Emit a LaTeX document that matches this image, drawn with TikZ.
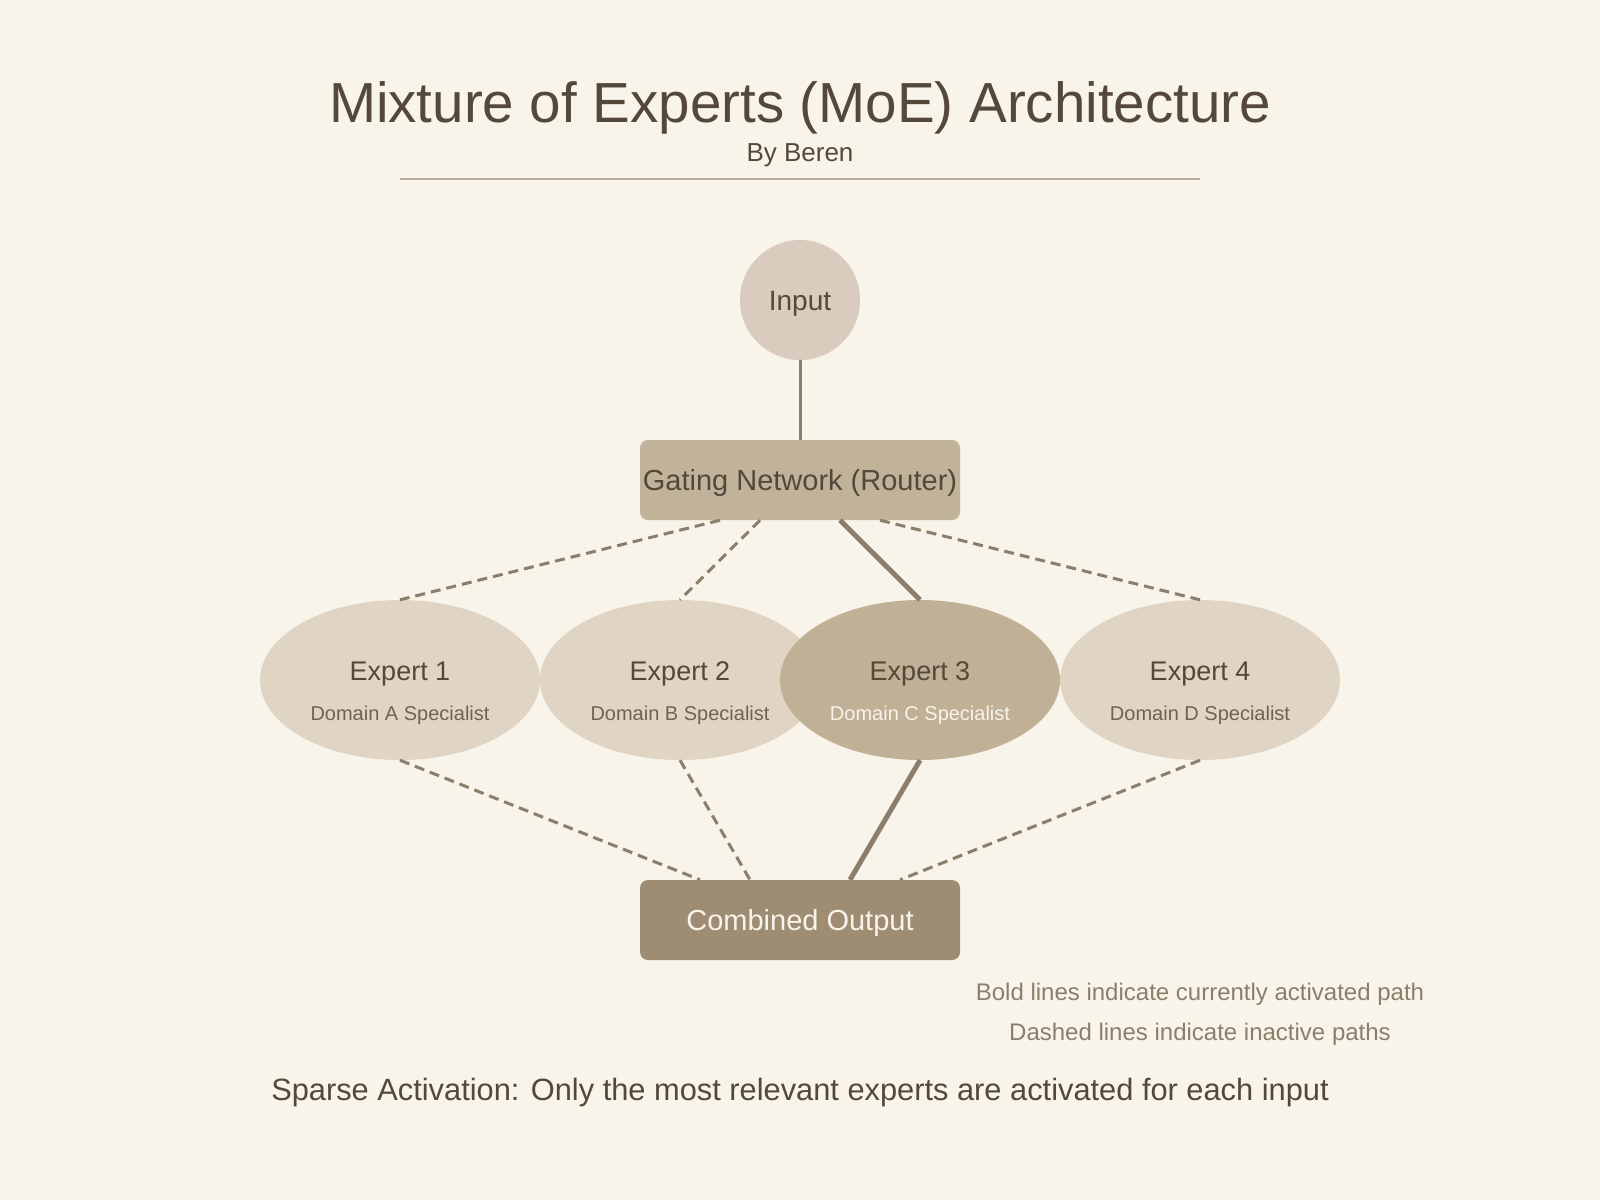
\documentclass[tikz,border=0pt]{standalone}
\usepackage{fontspec}
\setmainfont{Liberation Sans}
\usetikzlibrary{shapes.geometric}

\definecolor{paper}{HTML}{F8F4EA}
\definecolor{ink}{HTML}{54483A}
\definecolor{subink}{HTML}{6E6254}
\definecolor{wire}{HTML}{8B7E6B}
\definecolor{rulec}{HTML}{B8AC9A}
\definecolor{inputfill}{HTML}{D9CCBE}
\definecolor{gatefill}{HTML}{C1B29A}
\definecolor{expfill}{HTML}{E0D5C5}
\definecolor{hotfill}{HTML}{C0B095}
\definecolor{outfill}{HTML}{9E8D72}

\newcommand{\fsz}[1]{\fontsize{#1}{#1}\selectfont}

\begin{document}
\begin{tikzpicture}[x=1pt, y=-1pt,
  box/.style={rectangle, rounded corners=8pt, minimum width=320pt, minimum height=80pt,
    inner sep=0pt, text height=20pt, text depth=0pt, font=\fsz{28}},
  ell/.style={ellipse, fill=expfill, minimum width=280pt, minimum height=160pt,
    inner sep=0pt, text height=0pt, text depth=0pt, text=ink, font=\fsz{27}},
  sub/.style={anchor=base, text=subink, font=\fsz{20}},
  idle/.style={draw=wire, line width=3pt, dash pattern=on 10pt off 6pt},
  live/.style={draw=wire, line width=5pt}]
  % Background
  \fill[paper] (0,0) rectangle (1600,1200);

  % Title
  \node[anchor=base, text=ink, font=\fsz{56.5}] (title) at (800,122) {Mixture of Experts (MoE) Architecture};
  \node[anchor=base, text=ink, font=\fsz{26}] (byline) at (800,161) {By Beren};
  \draw[rulec, line width=1.5pt] (400,179) -- (1200,179);

  % Input and router
  \node[circle, fill=inputfill, minimum size=120pt, inner sep=0pt, text height=20pt, text depth=0pt,
    text=ink, font=\fsz{28}] (input) at (800,300) {Input};
  \node[box, fill=gatefill, text=ink, font=\fsz{29}] (gate) at (800,480) {Gating Network (Router)};
  \draw[wire, line width=3pt] (input) -- (gate);

  % Experts
  \foreach \i/\x/\d in {1/400/A, 2/680/B, 4/1200/D} {
    \node[ell] (exp\i) at (\x,680) {Expert \i};
    \node[sub] at ([yshift=-40pt]exp\i.center) {Domain \d{} Specialist};
  }
  \node[ell, fill=hotfill] (exp3) at (920,680) {Expert 3};
  \node[sub, text=paper] at ([yshift=-40pt]exp3.center) {Domain C Specialist};

  % Output
  \node[box, fill=outfill, text=paper, font=\fsz{29}] (out) at (800,920) {Combined Output};

  % Router to experts
  \draw[idle] ([xshift=-80pt]gate.south) -- (exp1.north);
  \draw[idle] ([xshift=-40pt]gate.south) -- (exp2.north);
  \draw[live] ([xshift=40pt]gate.south) -- (exp3.north);
  \draw[idle] ([xshift=80pt]gate.south) -- (exp4.north);

  % Experts to output
  \draw[idle] (exp1.south) -- ([xshift=-100pt]out.north);
  \draw[idle] (exp2.south) -- ([xshift=-50pt]out.north);
  \draw[live] (exp3.south) -- ([xshift=50pt]out.north);
  \draw[idle] (exp4.south) -- ([xshift=100pt]out.north);

  % Notes
  \node[anchor=base, text=wire, font=\fsz{24}] (note1) at (1200,1000) {Bold lines indicate currently activated path};
  \node[anchor=base, text=wire, font=\fsz{24}] (note2) at (1200,1040) {Dashed lines indicate inactive paths};
  \node[anchor=base, text=ink, font=\fsz{30.8}] (sparse) at (800,1100) {Sparse Activation: Only the most relevant experts are activated for each input};
\end{tikzpicture}
\end{document}
